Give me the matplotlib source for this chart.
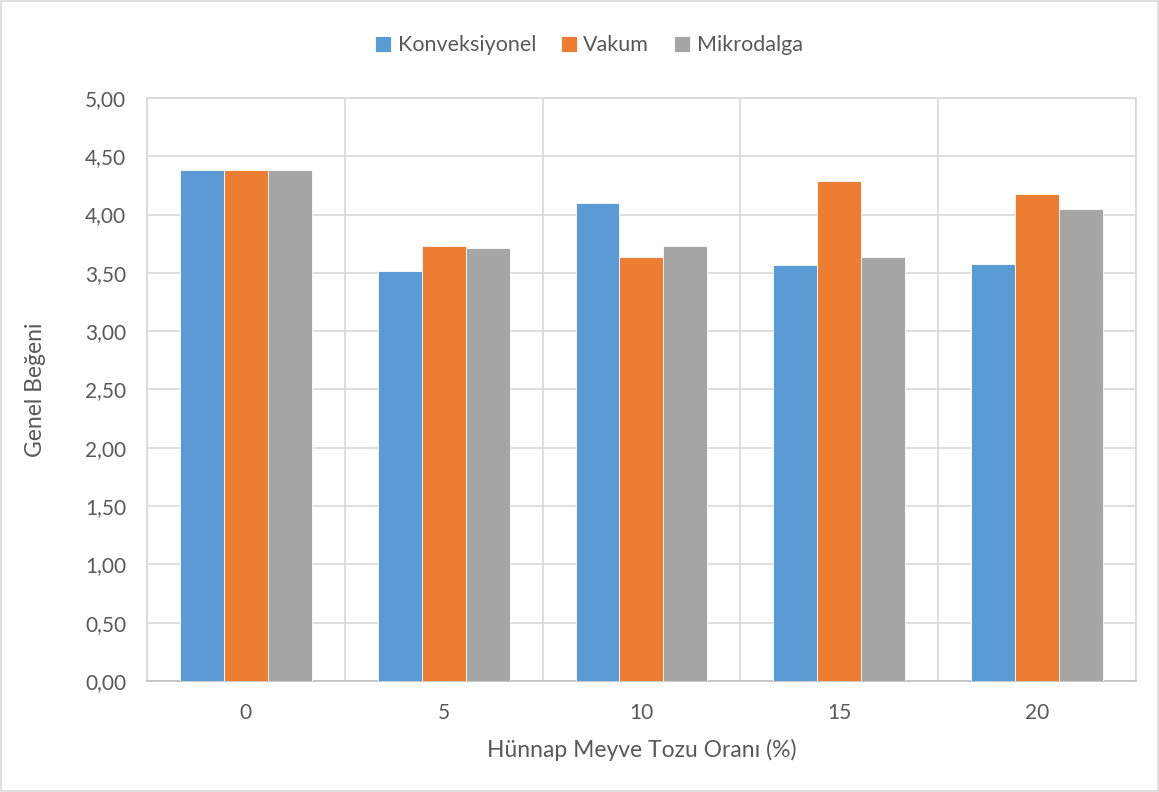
import matplotlib.pyplot as plt
import matplotlib.patches as patches
import numpy as np

plt.rcParams['font.family'] = ['Lato', 'DejaVu Sans']

## kategoriler ve seriler
oranlar = ['0', '5', '10', '15', '20']
konveksiyonel = [4.38, 3.52, 4.10, 3.57, 3.58]
vakum = [4.38, 3.73, 3.64, 4.29, 4.18]
mikrodalga = [4.38, 3.71, 3.73, 3.64, 4.05]
y_ticks = [0, 0.5, 1, 1.5, 2, 2.5, 3, 3.5, 4, 4.5, 5]

fig = plt.figure(figsize=(11.59, 7.92), dpi=100)
ax = fig.add_axes([0.1268, 0.1402, 0.8533, 0.7361])

x = np.arange(len(oranlar))
w = 0.222
renkler = ['#5B9BD5', '#ED7D31', '#A5A5A5']
seriler = [('Konveksiyonel', konveksiyonel), ('Vakum', vakum), ('Mikrodalga', mikrodalga)]
for i, (ad, deger) in enumerate(seriler):
    ax.bar(x + (i - 1) * w, deger, w, color=renkler[i], label=ad,
           edgecolor='white', linewidth=0.6, zorder=3)

ax.set_xlim(-0.5, 4.5)
ax.set_ylim(0, 5)
ax.set_yticks(y_ticks)
ax.set_yticklabels([('%.2f' % v).replace('.', ',') for v in y_ticks])
ax.set_xticks(x)
ax.set_xticklabels(oranlar)
ax.tick_params(axis='both', length=0, labelsize=15, colors='#595959')
ax.tick_params(axis='y', pad=15)
ax.tick_params(axis='x', pad=16)

# izgara
ax.set_xticks(np.arange(-0.5, 5, 1), minor=True)
ax.grid(axis='y', color='#D9D9D9', linewidth=1.2, zorder=0)
ax.grid(axis='x', which='minor', color='#D9D9D9', linewidth=1.2, zorder=0)
ax.tick_params(axis='x', which='minor', length=0)
for s in ax.spines.values():
    s.set_color('#D9D9D9')
    s.set_linewidth(1.2)
ax.spines['bottom'].set_color('#BFBFBF')

ax.set_ylabel('Genel Beğeni', fontsize=16.5, color='#595959', va='center')
ax.yaxis.set_label_coords(-0.113, 0.5)
ax.set_xlabel('Hünnap Meyve Tozu Oranı (%)', fontsize=16.5, color='#595959', va='center')
ax.xaxis.set_label_coords(0.5, -0.118)

fig.legend(loc='center', bbox_to_anchor=(0.508, 0.943), ncol=3, frameon=False,
           fontsize=15.5, handlelength=0.75, handleheight=0.75, handletextpad=0.3,
           columnspacing=1.15, labelcolor='#595959')

fig.patches.append(patches.Rectangle((0.001, 0.001), 0.998, 0.998, transform=fig.transFigure,
                                     fill=False, edgecolor='#D9D9D9', linewidth=1.2))

fig.savefig('out.png', dpi=100)
